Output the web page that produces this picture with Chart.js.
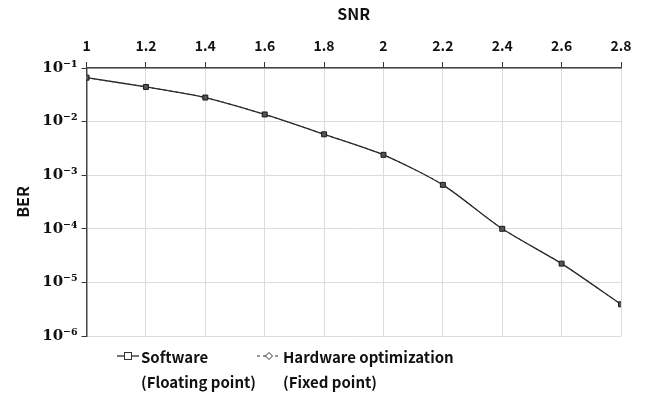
<!DOCTYPE html>
<html>
<head>
<meta charset="utf-8">
<script src="https://cdn.jsdelivr.net/npm/chart.js@4.4.1/dist/chart.umd.min.js"></script>
<style>
  html, body { margin: 0; padding: 0; background: #fff; }
  #wrap { position: relative; width: 645px; height: 394px; }
  #legend { position: absolute; left: 0; top: 344px; width: 645px; font: bold 15px 'Noto Sans CJK KR', 'Noto Sans', sans-serif; color: #111; }
  .item { position: absolute; top: 0; line-height: 25px; }
  .item svg { position: absolute; top: 6px; }
  .item .txt { position: absolute; white-space: nowrap; }
</style>
</head>
<body>
<div id="wrap">
  <canvas id="berChart" width="645" height="394"></canvas>
  <div id="legend"></div>
</div>
<script>
// x values (SNR) and the two BER curves
var snr = [1, 1.2, 1.4, 1.6, 1.8, 2, 2.2, 2.4, 2.6, 2.8];
var berSoftware = [0.066, 0.0443, 0.0281, 0.0136, 0.0058, 0.0024, 0.00066, 0.0001, 0.0000224, 0.0000039];
var berHardware = [0.066, 0.0443, 0.0281, 0.0136, 0.0058, 0.0024, 0.00066, 0.0001, 0.0000224, 0.0000039];
var snrTicks = [1, 1.2, 1.4, 1.6, 1.8, 2, 2.2, 2.4, 2.6, 2.8];
var berTicks = [1e-6, 1e-5, 1e-4, 1e-3, 1e-2, 1e-1];
var seriesNames = [['Software', '(Floating point)'], ['Hardware optimization', '(Fixed point)']];

var sup = { '-': '\u207B', '1': '\u00B9', '2': '\u00B2', '3': '\u00B3', '4': '\u2074', '5': '\u2075', '6': '\u2076' };
function powLabel(v) {
    var e = String(Math.round(Math.log10(v)));
    return '10' + e.split('').map(function(c){ return sup[c]; }).join('');
}

var ctx = document.getElementById('berChart').getContext('2d');
var berChart = new Chart(ctx, {
    type: 'line',
    data: {
        datasets: [{
            label: seriesNames[0].join(' '),
            data: snr.map(function(x, i){ return { x: x, y: berSoftware[i] }; }),
            borderColor: '#2b2b2b',
            borderWidth: 1.3,
            pointStyle: 'rect',
            pointRadius: 3.5,
            pointBackgroundColor: '#555',
            pointBorderColor: '#1a1a1a',
            pointBorderWidth: 1,
            tension: 0.25
        }, {
            label: seriesNames[1].join(' '),
            data: snr.map(function(x, i){ return { x: x, y: berHardware[i] }; }),
            borderColor: '#333',
            borderWidth: 1,
            borderDash: [3, 3],
            pointStyle: 'rectRot',
            pointRadius: 2,
            pointBackgroundColor: '#fff',
            pointBorderColor: '#333',
            pointBorderWidth: 1,
            tension: 0.25
        }]
    },
    options: {
        responsive: false,
        animation: false,
        layout: { padding: { left: 13, right: 24, top: 4, bottom: 58 } },
        plugins: {
            legend: { display: false },
            tooltip: { enabled: false }
        },
        scales: {
            x: {
                type: 'linear',
                position: 'top',
                min: 1,
                max: 2.8,
                afterBuildTicks: function(axis){ axis.ticks = snrTicks.map(function(v){ return { value: v }; }); },
                ticks: {
                    color: '#111',
                    font: { family: "'Noto Sans CJK KR', 'Noto Sans', sans-serif", size: 14, weight: 'bold' },
                    padding: 8,
                    maxRotation: 0,
                    callback: function(v){ return String(Math.round(v * 10) / 10); }
                },
                grid: { color: '#dcdcdc', tickColor: '#333', tickLength: 6, lineWidth: 1 },
                border: { color: '#444', width: 1.5 },
                title: {
                    display: true,
                    text: 'SNR',
                    color: '#111',
                    font: { family: "'Noto Sans CJK KR', 'Noto Sans', sans-serif", size: 16, weight: 'bold' },
                    padding: { top: 0, bottom: 6 }
                }
            },
            y: {
                type: 'logarithmic',
                min: 1e-6,
                max: 1e-1,
                afterBuildTicks: function(axis){ axis.ticks = berTicks.map(function(v){ return { value: v }; }); },
                ticks: {
                    color: '#111',
                    font: { family: "'DejaVu Serif', serif", size: 15, weight: 'bold' },
                    padding: 4,
                    callback: function(v){ return powLabel(v); }
                },
                grid: { color: '#dcdcdc', tickColor: '#333', tickLength: 5, lineWidth: 1 },
                border: { color: '#444', width: 1.5 },
                title: {
                    display: true,
                    text: 'BER',
                    color: '#111',
                    font: { family: "'Noto Sans CJK KR', 'Noto Sans', sans-serif", size: 16, weight: 'bold' },
                    padding: { top: 0, bottom: 6 }
                }
            }
        }
    }
});

// legend below the plot, two lines per entry
var legendEl = document.getElementById('legend');
var legendX = [117, 257];
var markers = [
    '<svg width="22" height="12"><line x1="0" y1="6" x2="22" y2="6" stroke="#2b2b2b" stroke-width="1.3"/><rect x="7.5" y="2.5" width="7" height="7" fill="#fff" stroke="#333" stroke-width="1"/></svg>',
    '<svg width="24" height="12"><line x1="0" y1="6" x2="24" y2="6" stroke="#333" stroke-width="1" stroke-dasharray="3,3"/><polygon points="12,2.5 15.5,6 12,9.5 8.5,6" fill="#fff" stroke="#333" stroke-width="1"/></svg>'
];
seriesNames.forEach(function(lines, i){
    var d = document.createElement('div');
    d.className = 'item';
    d.style.left = legendX[i] + 'px';
    d.innerHTML = markers[i] +
        '<span class="txt" style="left:' + (i ? 26 : 24) + 'px;top:0">' + lines[0] + '</span>' +
        '<span class="txt" style="left:' + (i ? 26 : 24) + 'px;top:25px">' + lines[1] + '</span>';
    legendEl.appendChild(d);
});
</script>
</body>
</html>
